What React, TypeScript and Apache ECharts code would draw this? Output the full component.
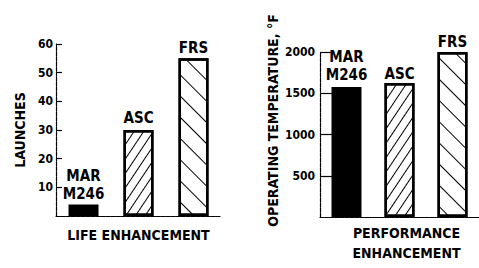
import React, { useEffect, useRef } from "react";
import * as echarts from "echarts";

const categories = ["MAR\nM246", "ASC", "FRS"];
const launches = [4, 30, 55];
const temperatures = [1575, 1625, 2000];
const launchTicks = [10, 20, 30, 40, 50, 60];
const tempTicks = [500, 1000, 1500, 2000];

const FONT = "'DejaVu Sans Condensed', 'DejaVu Sans', sans-serif";

const hatchASC = {
  symbol: "rect",
  symbolSize: 1,
  dashArrayX: [1, 0],
  dashArrayY: [1, 7],
  rotation: -Math.PI / 3.2,
  color: "#000",
};
const hatchFRS = {
  symbol: "rect",
  symbolSize: 1,
  dashArrayX: [1, 0],
  dashArrayY: [1, 14],
  rotation: Math.PI / 4,
  color: "#000",
};

function itemFor(i: number) {
  if (i === 0) return { color: "#000", borderColor: "#000", borderWidth: 2 };
  return {
    color: "#fff",
    borderColor: "#000",
    borderWidth: 2.5,
    decal: i === 1 ? hatchASC : hatchFRS,
  };
}

const leftLabelDist = [2, 3, 1.5];
const rightLabelDist = [3.5, 0, 1.5];

export default function App() {
  const ref = useRef<HTMLDivElement>(null);
  useEffect(() => {
    document.body.style.margin = "0";
    const chart = echarts.init(ref.current!, null, { renderer: "svg" });
    const axisLine = { show: true, lineStyle: { color: "#000", width: 1.2, type: [4, 1] as any } };
    const labelStyle = { color: "#000", fontFamily: FONT, fontWeight: "bold" as const, fontSize: 13 };
    const barLabel = {
      show: true,
      position: "top",
      formatter: "{b}",
      ...labelStyle,
      fontSize: 15,
      lineHeight: 18,
    };
    chart.setOption({
      animation: false,
      backgroundColor: "#fff",
      grid: [
        { left: 56, width: 165, top: 44, bottom: 52 },
        { left: 320, right: -5, top: 52, bottom: 50 },
      ],
      xAxis: [
        {
          type: "category",
          gridIndex: 0,
          data: categories,
          axisLine,
          axisTick: { show: false },
          axisLabel: { show: false },
          name: "LIFE ENHANCEMENT",
          nameLocation: "middle",
          nameGap: 12,
          nameTextStyle: { ...labelStyle, fontSize: 14 },
        },
        {
          type: "category",
          gridIndex: 1,
          data: categories,
          axisLine,
          axisTick: { show: false },
          axisLabel: { show: false },
          name: "PERFORMANCE\nENHANCEMENT",
          nameLocation: "middle",
          nameGap: 6,
          nameTextStyle: { ...labelStyle, fontSize: 14, lineHeight: 20, padding: [0, 0, 0, 14] },
        },
      ],
      yAxis: [
        {
          type: "value",
          gridIndex: 0,
          min: 0,
          max: launchTicks[launchTicks.length - 1],
          interval: launchTicks[1] - launchTicks[0],
          axisLine,
          axisTick: { show: true, inside: true, length: 6, lineStyle: { color: "#000", width: 1.2 } },
          splitLine: { show: false },
          axisLabel: { ...labelStyle, fontSize: 12, margin: 3, showMinLabel: false, formatter: (v: number) => String(v) },
          name: "LAUNCHES",
          nameLocation: "middle",
          nameGap: 29,
          nameTextStyle: { ...labelStyle, fontSize: 14 },
        },
        {
          type: "value",
          gridIndex: 1,
          min: 0,
          max: tempTicks[tempTicks.length - 1],
          interval: tempTicks[1] - tempTicks[0],
          axisLine,
          axisTick: { show: true, inside: true, length: 12, lineStyle: { color: "#000", width: 1.2 } },
          splitLine: { show: false },
          axisLabel: { ...labelStyle, fontSize: 12, margin: 5, showMinLabel: false, formatter: (v: number) => String(v) },
          name: "OPERATING TEMPERATURE, °F",
          nameLocation: "middle",
          nameGap: 40,
          nameTextStyle: { ...labelStyle, fontSize: 14, padding: [0, 0, 0, 28] },
        },
      ],
      series: [
        {
          type: "bar",
          xAxisIndex: 0,
          yAxisIndex: 0,
          barWidth: 30,
          data: launches.map((v, i) => ({
            value: v,
            itemStyle: itemFor(i),
            label: { ...barLabel, distance: leftLabelDist[i] },
          })),
          label: barLabel,
        },
        {
          type: "bar",
          xAxisIndex: 1,
          yAxisIndex: 1,
          barWidth: 30,
          data: temperatures.map((v, i) => ({
            value: v,
            itemStyle: itemFor(i),
            label: { ...barLabel, distance: rightLabelDist[i] },
          })),
          label: barLabel,
        },
      ],
    });
    return () => chart.dispose();
  }, []);
  return <div ref={ref} style={{ width: 479, height: 268 }} />;
}
